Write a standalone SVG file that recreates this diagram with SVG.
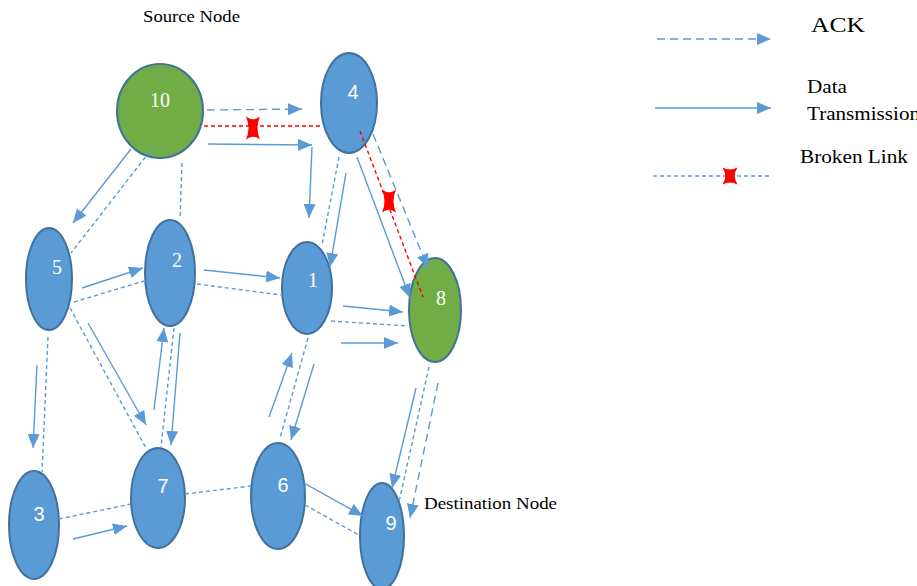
<svg xmlns="http://www.w3.org/2000/svg" width="917" height="586" viewBox="0 0 917 586">
  <defs>
    <marker id="arr" markerUnits="userSpaceOnUse" markerWidth="15" markerHeight="13" refX="14" refY="6" orient="auto">
      <path d="M0,0 L14,6 L0,12 Z" fill="#5B9BD5"/>
    </marker>
    <!-- red cross used to mark a broken link -->
    <path id="xmark" d="M-7,-11.5 Q0,-6 7,-11.5 Q2,0 7,11.5 Q0,6 -7,11.5 Q-2,0 -7,-11.5 Z" fill="#FF0000"/>
    <path id="xmark-sm" d="M-7.5,-8.5 Q0,-4.5 7.5,-8.5 Q2,0 7.5,8.5 Q0,4.5 -7.5,8.5 Q-2,0 -7.5,-8.5 Z" fill="#FF0000"/>
    <style>
      .node { fill: #5B9BD5; stroke: #41719C; stroke-width: 2; }
      .src { fill: #70AD47; stroke: #41719C; stroke-width: 2; }
      .lbl { fill: #FFFFFF; font-size: 20px; text-anchor: middle; }
      .serif { font-family: "Liberation Serif", "Times New Roman", serif; }
      .sans { font-family: "Liberation Sans", Arial, sans-serif; }
      .data { stroke: #5B9BD5; stroke-width: 1.4; fill: none; marker-end: url(#arr); }
      .ack { stroke: #5B9BD5; stroke-width: 1.4; fill: none; stroke-dasharray: 8 5; marker-end: url(#arr); }
      .dash { stroke: #5B9BD5; stroke-width: 1.4; fill: none; stroke-dasharray: 4 3; }
      .broken { stroke: #FF0000; stroke-width: 1.4; fill: none; stroke-dasharray: 4 3; }
      .cap { fill: #000000; font-family: "Liberation Serif", "Times New Roman", serif; }
    </style>
  </defs>

  <!-- nodes -->
  <g id="node10">
    <ellipse class="src" cx="160" cy="111" rx="43" ry="47"/>
    <text class="lbl serif" x="160" y="107" font-size="21">10</text>
  </g>
  <g id="node4">
    <ellipse class="node" cx="349" cy="103" rx="28" ry="50"/>
    <text class="lbl sans" x="353" y="99">4</text>
  </g>
  <g id="node5">
    <ellipse class="node" cx="49" cy="279" rx="23" ry="51"/>
    <text class="lbl serif" x="57" y="274">5</text>
  </g>
  <g id="node2">
    <ellipse class="node" cx="170" cy="273" rx="25" ry="53"/>
    <text class="lbl serif" x="177" y="267">2</text>
  </g>
  <g id="node1">
    <ellipse class="node" cx="307" cy="288" rx="25" ry="46"/>
    <text class="lbl serif" x="313" y="287">1</text>
  </g>
  <g id="node8">
    <ellipse class="src" cx="435" cy="310" rx="26" ry="52"/>
    <text class="lbl serif" x="441" y="305">8</text>
  </g>
  <g id="node3">
    <ellipse class="node" cx="34" cy="525" rx="25" ry="54"/>
    <text class="lbl sans" x="39" y="521">3</text>
  </g>
  <g id="node7">
    <ellipse class="node" cx="158" cy="498" rx="27" ry="50"/>
    <text class="lbl sans" x="163" y="493">7</text>
  </g>
  <g id="node6">
    <ellipse class="node" cx="278" cy="496" rx="27" ry="53"/>
    <text class="lbl sans" x="283" y="492">6</text>
  </g>
  <g id="node9">
    <ellipse class="node" cx="382" cy="536" rx="22" ry="53"/>
    <text class="lbl sans" x="391" y="530">9</text>
  </g>

  <!-- connectors, drawn over the nodes -->
  <g id="connectors">
    <!-- 10 to 4 -->
    <line class="ack" x1="207" y1="110" x2="302" y2="109"/>
    <line class="broken" x1="204" y1="126" x2="321" y2="126"/>
    <line class="data" x1="208" y1="144" x2="312" y2="145"/>
    <line class="data" x1="312" y1="147" x2="309" y2="218"/>
    <!-- 4 to 8 -->
    <line class="broken" x1="360" y1="131" x2="423" y2="297"/>
    <line class="ack" x1="373" y1="134" x2="428" y2="268"/>
    <line class="data" x1="357" y1="157" x2="410" y2="298"/>
    <!-- 4 to 1 -->
    <line class="dash" x1="339" y1="157" x2="322" y2="245"/>
    <line class="data" x1="346" y1="173" x2="330" y2="267"/>
    <!-- 10 to 5 -->
    <line class="data" x1="131" y1="149" x2="73" y2="223"/>
    <line class="dash" x1="154" y1="146" x2="71" y2="253"/>
    <!-- 10 to 2 -->
    <line class="dash" x1="182" y1="163" x2="180" y2="219"/>
    <!-- 5 to 2 -->
    <line class="data" x1="82" y1="288" x2="143" y2="268"/>
    <line class="dash" x1="74" y1="302" x2="144" y2="281"/>
    <!-- 2 to 1 -->
    <line class="data" x1="204" y1="270" x2="280" y2="278"/>
    <line class="dash" x1="197" y1="284" x2="281" y2="295"/>
    <!-- 1 to 8 -->
    <line class="data" x1="343" y1="306" x2="403" y2="312"/>
    <line class="dash" x1="331" y1="321" x2="408" y2="326"/>
    <line class="data" x1="341" y1="343" x2="398" y2="343"/>
    <!-- 5 to 3 -->
    <line class="data" x1="37" y1="365" x2="33" y2="448"/>
    <line class="dash" x1="48" y1="337" x2="42" y2="472"/>
    <!-- 5 to 7 -->
    <line class="data" x1="88" y1="323" x2="146" y2="425"/>
    <line class="dash" x1="70" y1="308" x2="147" y2="450"/>
    <!-- 7 and 2 -->
    <line class="data" x1="154" y1="410" x2="164" y2="328"/>
    <line class="dash" x1="174" y1="328" x2="161" y2="447"/>
    <line class="data" x1="180" y1="333" x2="171" y2="445"/>
    <!-- 3 to 7 -->
    <line class="dash" x1="59" y1="519" x2="131" y2="504"/>
    <line class="data" x1="73" y1="539" x2="127" y2="526"/>
    <!-- 7 to 6 -->
    <line class="dash" x1="185" y1="494" x2="251" y2="486"/>
    <!-- 6 and 1 -->
    <line class="data" x1="269" y1="417" x2="292" y2="353"/>
    <line class="dash" x1="308" y1="338" x2="280" y2="438"/>
    <line class="data" x1="314" y1="364" x2="291" y2="440"/>
    <!-- 6 to 9 -->
    <line class="data" x1="304" y1="483" x2="363" y2="516"/>
    <line class="dash" x1="305" y1="505" x2="359" y2="535"/>
    <!-- 8 to 9 -->
    <line class="data" x1="416" y1="388" x2="392" y2="488"/>
    <line class="dash" x1="429" y1="367" x2="399" y2="502"/>
    <line class="ack" x1="438" y1="383" x2="410" y2="518"/>
    <!-- broken link marks -->
    <use href="#xmark" x="253" y="128"/>
    <use href="#xmark" x="389" y="201"/>
  </g>

  <!-- captions -->
  <text class="cap" x="143" y="22" font-size="17" textLength="97" lengthAdjust="spacingAndGlyphs">Source Node</text>
  <text class="cap" x="424" y="509" font-size="17" textLength="133" lengthAdjust="spacingAndGlyphs">Destination Node</text>

  <!-- legend -->
  <g id="legend">
    <line class="ack" x1="657" y1="39" x2="771" y2="39"/>
    <text class="cap" x="811" y="32" font-size="22" textLength="54" lengthAdjust="spacingAndGlyphs">ACK</text>
    <line class="data" x1="655" y1="108" x2="771" y2="108"/>
    <text class="cap" x="807" y="93" font-size="18" textLength="40" lengthAdjust="spacingAndGlyphs">Data</text>
    <text class="cap" x="807" y="120" font-size="18" textLength="113" lengthAdjust="spacingAndGlyphs">Transmission</text>
    <line class="dash" x1="653" y1="176" x2="772" y2="176"/>
    <use href="#xmark-sm" x="730" y="176"/>
    <text class="cap" x="800" y="163" font-size="18" textLength="108" lengthAdjust="spacingAndGlyphs">Broken Link</text>
  </g>
</svg>
